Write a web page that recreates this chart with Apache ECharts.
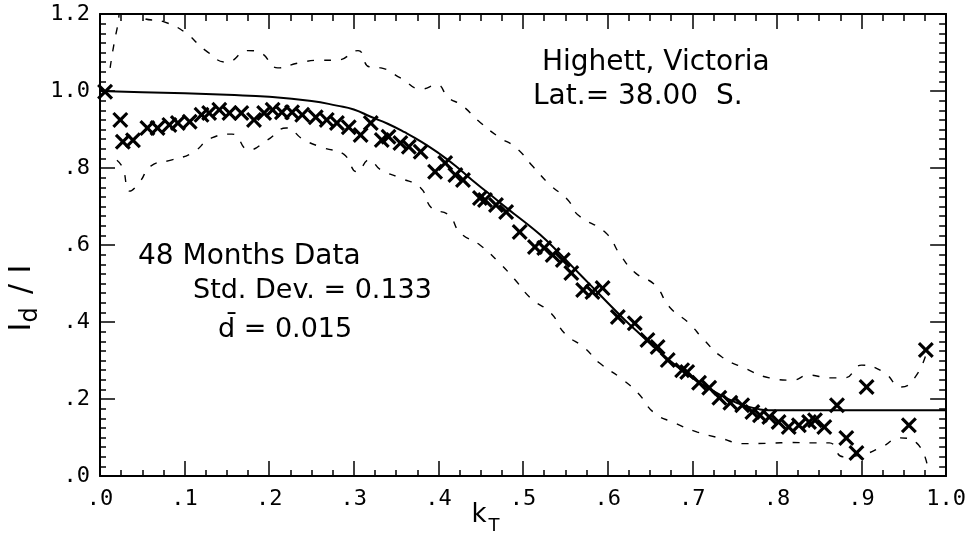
<!DOCTYPE html>
<html><head><meta charset="utf-8">
<script src="https://cdn.jsdelivr.net/npm/echarts@6/dist/echarts.min.js"></script>
<style>html,body{margin:0;padding:0;background:#fff}#c{width:969px;height:535px}</style>
</head><body><div id="c"></div>
<script>
// tick labels
const xTickLabels = ['.0','.1','.2','.3','.4','.5','.6','.7','.8','.9','1.0'];
const yTickLabels = ['.0','.2','.4','.6','.8','1.0','1.2'];

// observed monthly-averaged points (kT, Id/I)
const obsK = [0.006,0.024,0.027,0.039,0.056,0.068,0.082,0.092,0.106,0.12,0.129,0.141,0.153,0.167,0.182,0.194,0.204,0.215,0.227,0.239,0.255,0.268,0.28,0.294,0.308,0.32,0.333,0.341,0.355,0.365,0.379,0.396,0.408,0.42,0.429,0.449,0.455,0.468,0.48,0.496,0.514,0.525,0.535,0.547,0.557,0.571,0.582,0.594,0.612,0.632,0.647,0.659,0.671,0.688,0.694,0.708,0.72,0.732,0.745,0.759,0.771,0.78,0.791,0.802,0.814,0.826,0.838,0.845,0.856,0.871,0.882,0.894,0.906,0.956,0.976];
const obsV = [0.998,0.925,0.868,0.872,0.904,0.904,0.912,0.917,0.92,0.938,0.943,0.951,0.943,0.943,0.925,0.943,0.951,0.945,0.945,0.938,0.932,0.925,0.917,0.906,0.886,0.917,0.873,0.881,0.865,0.855,0.842,0.79,0.813,0.782,0.769,0.722,0.717,0.704,0.686,0.634,0.595,0.592,0.574,0.561,0.527,0.483,0.478,0.488,0.413,0.397,0.353,0.335,0.301,0.275,0.27,0.242,0.229,0.203,0.19,0.184,0.166,0.158,0.153,0.14,0.127,0.132,0.14,0.145,0.127,0.184,0.099,0.06,0.231,0.132,0.327];

// model curve
const modelK = [0,0.05,0.1,0.15,0.2,0.25,0.28,0.3,0.32,0.34,0.36,0.38,0.4,0.42,0.44,0.46,0.48,0.5,0.52,0.54,0.56,0.58,0.6,0.62,0.64,0.66,0.68,0.7,0.72,0.74,0.76,0.78,0.79,1.0];
const modelV = [1.0,0.997,0.994,0.99,0.985,0.974,0.962,0.952,0.933,0.915,0.893,0.868,0.839,0.806,0.768,0.733,0.697,0.663,0.627,0.585,0.54,0.495,0.45,0.406,0.365,0.325,0.288,0.255,0.227,0.203,0.184,0.173,0.171,0.171];

// upper (+1 std dev) band
const upperK = [0.012,0.02,0.03,0.05,0.075,0.1,0.125,0.15,0.175,0.19,0.21,0.235,0.26,0.28,0.305,0.318,0.332,0.355,0.38,0.398,0.412,0.427,0.449,0.471,0.492,0.512,0.532,0.553,0.565,0.598,0.615,0.633,0.656,0.673,0.696,0.714,0.735,0.761,0.791,0.818,0.838,0.862,0.88,0.9,0.926,0.947,0.965,0.978];
const upperV = [1.06,1.16,1.24,1.19,1.18,1.153,1.105,1.075,1.105,1.099,1.06,1.073,1.08,1.08,1.105,1.063,1.06,1.034,1.005,1.016,0.982,0.964,0.919,0.881,0.852,0.803,0.756,0.717,0.678,0.631,0.574,0.527,0.496,0.439,0.397,0.353,0.309,0.281,0.255,0.249,0.262,0.255,0.255,0.288,0.27,0.231,0.262,0.33];

// lower (-1 std dev) band
const lowerK = [0.02,0.027,0.035,0.047,0.06,0.085,0.109,0.132,0.156,0.176,0.198,0.22,0.241,0.265,0.288,0.304,0.318,0.332,0.355,0.379,0.392,0.412,0.426,0.449,0.471,0.49,0.509,0.533,0.549,0.573,0.59,0.615,0.636,0.655,0.679,0.706,0.732,0.762,0.791,0.818,0.839,0.862,0.878,0.9,0.926,0.944,0.965,0.978];
const lowerV = [0.82,0.8,0.74,0.764,0.805,0.821,0.839,0.878,0.888,0.847,0.873,0.904,0.873,0.852,0.836,0.79,0.821,0.795,0.774,0.748,0.696,0.678,0.631,0.6,0.556,0.511,0.462,0.423,0.371,0.332,0.294,0.255,0.215,0.164,0.138,0.114,0.099,0.084,0.085,0.087,0.086,0.086,0.05,0.055,0.078,0.099,0.086,0.025];

const zip = (a, b) => a.map((v, i) => [v, b[i]]);
const X_PATH = 'path://M0,14 L14,0 L50,36 L86,0 L100,14 L64,50 L100,86 L86,100 L50,64 L14,100 L0,86 L36,50 Z';
const TXT = '"DejaVu Sans", sans-serif';
const MONO = '"DejaVu Sans Mono", monospace';

const chart = echarts.init(document.getElementById('c'), null, {renderer: 'canvas'});
const axisCommon = {
  min: 0, axisLine: {show: true, onZero: false, lineStyle: {color: '#000', width: 2}},
  splitLine: {show: false}
};
const txt = (x, y, text, size, align) => ({type: 'text', x, y, style: {text, fill: '#000', fontFamily: TXT, fontSize: size,
  align: align || 'left', verticalAlign: 'middle', textAlign: align || 'left', textVerticalAlign: 'middle'}});
chart.setOption({
  animation: false,
  backgroundColor: '#fff',
  grid: {left: 100, right: 19, top: 14, bottom: 59, containLabel: false},
  xAxis: [
    Object.assign({}, axisCommon, {type: 'value', position: 'bottom', max: 1.0, interval: 0.1,
      axisTick: {show: true, inside: true, length: 15, lineStyle: {color: '#000', width: 1.5}},
      minorTick: {show: true, splitNumber: 4, length: 6, lineStyle: {color: '#000', width: 1.5}},
      axisLabel: {show: true, margin: 12, color: '#000', fontFamily: MONO, fontSize: 22,
        formatter: v => xTickLabels[Math.round(v * 10)]}}),
    Object.assign({}, axisCommon, {type: 'value', position: 'top', max: 1.0, interval: 0.1,
      axisTick: {show: true, inside: true, length: 15, lineStyle: {color: '#000', width: 1.5}},
      minorTick: {show: true, splitNumber: 4, length: 7, lineStyle: {color: '#000', width: 1.5}},
      axisLabel: {show: false}})
  ],
  yAxis: [
    Object.assign({}, axisCommon, {type: 'value', position: 'left', max: 1.2, interval: 0.2,
      axisTick: {show: true, inside: true, length: 15, lineStyle: {color: '#000', width: 1.5}},
      minorTick: {show: true, splitNumber: 8, length: 6, lineStyle: {color: '#000', width: 1.5}},
      axisLabel: {show: true, margin: 10, color: '#000', fontFamily: MONO, fontSize: 22,
        formatter: v => yTickLabels[Math.round(v * 5)]}}),
    Object.assign({}, axisCommon, {type: 'value', position: 'right', max: 1.2, interval: 0.2,
      axisTick: {show: true, inside: true, length: 16, lineStyle: {color: '#000', width: 1.5}},
      minorTick: {show: true, splitNumber: 8, length: 7, lineStyle: {color: '#000', width: 1.5}},
      axisLabel: {show: false}})
  ],
  series: [
    {type: 'line', data: zip(modelK, modelV), showSymbol: false, smooth: true, clip: true,
      lineStyle: {color: '#000', width: 2}, z: 3},
    {type: 'line', data: zip(upperK, upperV), showSymbol: false, smooth: true, clip: true,
      lineStyle: {color: '#000', width: 1.4, type: [7, 10]}, z: 2},
    {type: 'line', data: zip(lowerK, lowerV), showSymbol: false, smooth: true, clip: true,
      lineStyle: {color: '#000', width: 1.4, type: [7, 10]}, z: 2},
    {type: 'scatter', data: zip(obsK, obsV), symbol: X_PATH, symbolSize: 16,
      itemStyle: {color: '#000', opacity: 1}, z: 4}
  ],
  graphic: [
    txt(542, 63, 'Highett, Victoria', 28),
    txt(533, 97, 'Lat.= 38.00  S.', 28),
    txt(138, 257, '48 Months Data', 28),
    txt(193, 291, 'Std. Dev. = 0.133', 27),
    txt(218, 330, 'd\u0304 = 0.015', 27),
    {type: 'group', x: 22, y: 297, rotation: Math.PI / 2, children: [
      txt(-30, 0, 'I', 30, 'center'),
      txt(-18, 9, 'd', 24, 'center'),
      txt(8, 0, '/', 30, 'center'),
      txt(28, 0, 'I', 30, 'center')
    ]},
    txt(479, 515, 'k', 26, 'center'),
    txt(494, 526, 'T', 18, 'center')
  ]
});
</script></body></html>
